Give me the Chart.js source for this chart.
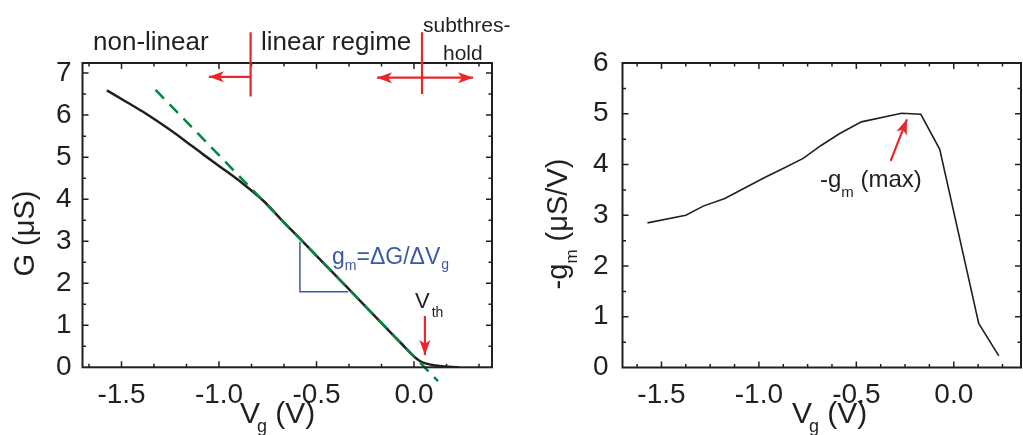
<!DOCTYPE html>
<html>
<head>
<meta charset="utf-8">
<title>G and gm vs Vg</title>
<script src="https://cdn.jsdelivr.net/npm/chart.js@4.4.0/dist/chart.umd.min.js"></script>
<style>
  html, body { margin: 0; padding: 0; background: #fff; }
  #wrap { position: relative; width: 1023px; height: 435px; overflow: hidden; }
  canvas { position: absolute; top: 0; }
  #chart-g { left: 0; }
  #chart-gm { left: 510px; }
</style>
</head>
<body>
<div id="wrap">
  <canvas id="chart-g" width="510" height="435"></canvas>
  <canvas id="chart-gm" width="513" height="435"></canvas>
</div>
<script>
// conductance G (uS) vs gate voltage
const vgG = [-1.575, -1.47, -1.38, -1.27, -1.18, -1.08, -1.00, -0.88, -0.77, -0.68, -0.585, -0.47, -0.34, -0.27, -0.17, -0.07, 0.03, 0.13, 0.23];
const gValues = [6.59, 6.30, 6.05, 5.71, 5.41, 5.06, 4.79, 4.38, 3.95, 3.51, 3.06, 2.51, 1.89, 1.55, 1.07, 0.59, 0.15, 0.03, 0.0];

// linear fit through the linear regime
const fitVg = [-1.325, 0.123];
const fitG = [6.60, -0.33];

// slope triangle
const triVg = [-0.585, -0.585, -0.337];
const triG = [2.99, 1.80, 1.80];

// transconductance -gm (uS/V)
const vgGm = [-1.572, -1.375, -1.286, -1.175, -0.978, -0.876, -0.773, -0.679, -0.585, -0.474, -0.268, -0.169, -0.072, 0.128, 0.231];
const gmValues = [2.85, 3.00, 3.18, 3.33, 3.73, 3.92, 4.12, 4.38, 4.61, 4.84, 5.01, 4.99, 4.30, 0.87, 0.23];

// regime boundaries (Vg) and Vth / max markers
const regimeVg = [-0.838, 0.041];
const vthVg = 0.056;
const gmMaxArrow = [[-0.324, 4.07], [-0.240, 4.89]];

// tick labels
const leftXTicks = [-1.5, -1.0, -0.5, 0.0];
const leftYTicks = [0, 1, 2, 3, 4, 5, 6, 7];
const rightXTicks = [-1.5, -1.0, -0.5, 0.0];
const rightYTicks = [0, 1, 2, 3, 4, 5, 6];

const FONT = '"Liberation Sans", Arial, Helvetica, sans-serif';
const INK = '#231f20';
const RED = '#e8262b';
const GREEN = '#00883f';
const BLUE = '#3b5ba9';

const pts = (xs, ys) => xs.map((x, i) => ({ x: x, y: ys[i] }));

// draw text runs with subscripts: parts = [text, size, dy, dx]
function richText(ctx, x, y, parts, align) {
    let w = 0;
    parts.forEach(p => {
        ctx.font = p[1] + 'px ' + FONT;
        w += ctx.measureText(p[0]).width + (p[3] || 0);
    });
    let cx = align === 'center' ? x - w / 2 : x;
    ctx.textAlign = 'left';
    ctx.textBaseline = 'alphabetic';
    parts.forEach(p => {
        ctx.font = p[1] + 'px ' + FONT;
        cx += (p[3] || 0);
        ctx.fillText(p[0], cx, y + (p[2] || 0));
        cx += ctx.measureText(p[0]).width;
    });
}

function arrowHead(ctx, x1, y1, x2, y2) {
    const a = Math.atan2(y2 - y1, x2 - x1);
    const len = 15, hw = 5.5;
    ctx.beginPath();
    ctx.moveTo(x2, y2);
    ctx.lineTo(x2 - len * Math.cos(a) + hw * Math.sin(a), y2 - len * Math.sin(a) - hw * Math.cos(a));
    ctx.lineTo(x2 - 0.75 * len * Math.cos(a), y2 - 0.75 * len * Math.sin(a));
    ctx.lineTo(x2 - len * Math.cos(a) - hw * Math.sin(a), y2 - len * Math.sin(a) + hw * Math.cos(a));
    ctx.closePath();
    ctx.fill();
}

function arrow(ctx, x1, y1, x2, y2, both) {
    ctx.beginPath();
    ctx.moveTo(x1, y1);
    ctx.lineTo(x2, y2);
    ctx.stroke();
    arrowHead(ctx, x1, y1, x2, y2);
    if (both) arrowHead(ctx, x2, y2, x1, y1);
}

// box frame with inward major / minor ticks on all four sides
function framePlugin(xMinor, yMinor) {
    return {
        id: 'frame',
        afterDatasetsDraw(chart) {
            const { ctx, chartArea: a, scales: { x, y } } = chart;
            ctx.save();
            ctx.strokeStyle = INK;
            ctx.lineWidth = 1.5;
            ctx.beginPath();
            const isMajor = v => Math.abs(v * 2 - Math.round(v * 2)) < 1e-6;
            for (let k = Math.ceil(x.min / xMinor); k * xMinor <= x.max; k++) {
                const v = k * xMinor;
                const px = x.getPixelForValue(v);
                if (px - a.left < 3 || a.right - px < 3) continue;
                const len = isMajor(v) ? 6 : 3.5;
                ctx.moveTo(px, a.bottom); ctx.lineTo(px, a.bottom - len);
                ctx.moveTo(px, a.top); ctx.lineTo(px, a.top + len);
            }
            for (let k = Math.ceil(y.min / yMinor); k * yMinor <= y.max; k++) {
                const v = k * yMinor;
                const py = y.getPixelForValue(v);
                if (py - a.top < 3 || a.bottom - py < 3) continue;
                const len = Number.isInteger(v) ? 6 : 3.5;
                ctx.moveTo(a.left, py); ctx.lineTo(a.left + len, py);
                ctx.moveTo(a.right, py); ctx.lineTo(a.right - len, py);
            }
            ctx.stroke();
            ctx.lineWidth = 2;
            ctx.strokeRect(a.left, a.top, a.right - a.left, a.bottom - a.top);
            ctx.restore();
        }
    };
}

function axisOptions(min, max, ticks, fit, fmt, pad) {
    return {
        type: 'linear',
        min: min,
        max: max,
        grid: { display: false },
        border: { display: false },
        afterBuildTicks: s => { s.ticks = ticks.map(v => ({ value: v })); },
        afterFit: fit,
        ticks: {
            autoSkip: false,
            maxRotation: 0,
            padding: pad,
            color: INK,
            font: { family: FONT, size: 28 },
            callback: fmt
        }
    };
}

const baseOptions = {
    responsive: false,
    animation: false,
    events: [],
    elements: { point: { radius: 0 }, line: { tension: 0, fill: false } },
    plugins: { legend: { display: false }, tooltip: { enabled: false } }
};

// left panel: G vs Vg
const leftNotes = {
    id: 'leftNotes',
    afterDraw(chart) {
        const { ctx, scales: { x, y } } = chart;
        ctx.save();
        ctx.fillStyle = INK;
        richText(ctx, 93, 50, [['non-linear', 26]]);
        richText(ctx, 261, 50, [['linear regime', 26]]);
        richText(ctx, 423, 32, [['subthres-', 21]]);
        richText(ctx, 443, 60, [['hold', 21]]);

        // axis titles
        richText(ctx, 240, 423, [['V', 30], ['g', 18, 9, -3], [' (V)', 30]]);
        ctx.save();
        ctx.translate(34, 233.5);
        ctx.rotate(-Math.PI / 2);
        richText(ctx, 0, 0, [['G (\u03bcS)', 29]], 'center');
        ctx.restore();

        // regime markers
        ctx.strokeStyle = RED;
        ctx.fillStyle = RED;
        ctx.lineWidth = 2.2;
        const x1 = x.getPixelForValue(regimeVg[0]);
        const x2 = x.getPixelForValue(regimeVg[1]);
        ctx.beginPath();
        ctx.moveTo(x1, y.getPixelForValue(7.97)); ctx.lineTo(x1, y.getPixelForValue(6.44));
        ctx.moveTo(x2, y.getPixelForValue(7.97)); ctx.lineTo(x2, y.getPixelForValue(6.50));
        ctx.stroke();
        arrow(ctx, x1, y.getPixelForValue(6.91), x.getPixelForValue(-1.052), y.getPixelForValue(6.91));
        arrow(ctx, x.getPixelForValue(-0.19), y.getPixelForValue(6.89), x.getPixelForValue(0.303), y.getPixelForValue(6.89), true);

        // threshold arrow
        const xv = x.getPixelForValue(vthVg);
        arrow(ctx, xv, y.getPixelForValue(1.22), xv, y.getPixelForValue(0.29));
        ctx.fillStyle = INK;
        richText(ctx, 415, 308, [['V', 22], ['th', 14, 9, 2]]);

        // slope label
        ctx.fillStyle = BLUE;
        richText(ctx, 332, 264, [['g', 23], ['m', 14, 5.5], ['=\u0394G/\u0394V', 23], ['g', 14, 5, 1]]);
        ctx.restore();
    }
};

new Chart(document.getElementById('chart-g'), {
    type: 'line',
    data: {
        datasets: [
            { data: pts(fitVg, fitG), borderColor: GREEN, borderWidth: 2.5, borderDash: [12, 8], clip: false, order: 0 },
            { data: pts(vgG, gValues), borderColor: INK, borderWidth: 2.5, cubicInterpolationMode: 'monotone', order: 1 },
            { data: pts(triVg, triG), borderColor: BLUE, borderWidth: 1.5, order: 2 }
        ]
    },
    options: Object.assign({}, baseOptions, {
        layout: { padding: { top: 63, right: 18, left: 0, bottom: 0 } },
        scales: {
            x: axisOptions(-1.70, 0.40, leftXTicks, s => { s.height = 67.7; }, v => v.toFixed(1), 3),
            y: axisOptions(0, 7.24, leftYTicks, s => { s.width = 82.5; }, v => String(v), 3)
        }
    }),
    plugins: [framePlugin(0.5 / 3, 0.5), leftNotes]
});

// right panel: -gm vs Vg
const rightNotes = {
    id: 'rightNotes',
    afterDraw(chart) {
        const { ctx, scales: { x, y } } = chart;
        ctx.save();
        ctx.fillStyle = INK;
        richText(ctx, 282, 423, [['V', 30], ['g', 18, 9, -3], [' (V)', 30]]);
        ctx.save();
        ctx.translate(57, 224);
        ctx.rotate(-Math.PI / 2);
        richText(ctx, 0, 0, [['-g', 29], ['m', 17, 10], [' (\u03bcS/V)', 29]], 'center');
        ctx.restore();

        richText(ctx, 310, 186.7, [['-g', 24], ['m', 15, 10], [' (max)', 24]]);

        ctx.strokeStyle = RED;
        ctx.fillStyle = RED;
        ctx.lineWidth = 2.2;
        arrow(ctx, x.getPixelForValue(gmMaxArrow[0][0]), y.getPixelForValue(gmMaxArrow[0][1]),
            x.getPixelForValue(gmMaxArrow[1][0]), y.getPixelForValue(gmMaxArrow[1][1]));
        ctx.restore();
    }
};

new Chart(document.getElementById('chart-gm'), {
    type: 'line',
    data: {
        datasets: [
            { data: pts(vgGm, gmValues), borderColor: INK, borderWidth: 1.6 }
        ]
    },
    options: Object.assign({}, baseOptions, {
        layout: { padding: { top: 63, right: 2, left: 0, bottom: 0 } },
        scales: {
            x: axisOptions(-1.70, 0.345, rightXTicks, s => { s.height = 67.5; }, v => v.toFixed(1), 3),
            y: axisOptions(0, 6, rightYTicks, s => { s.width = 112.5; }, v => String(v), 6)
        }
    }),
    plugins: [framePlugin(0.125, 0.5), rightNotes]
});
</script>
</body>
</html>
